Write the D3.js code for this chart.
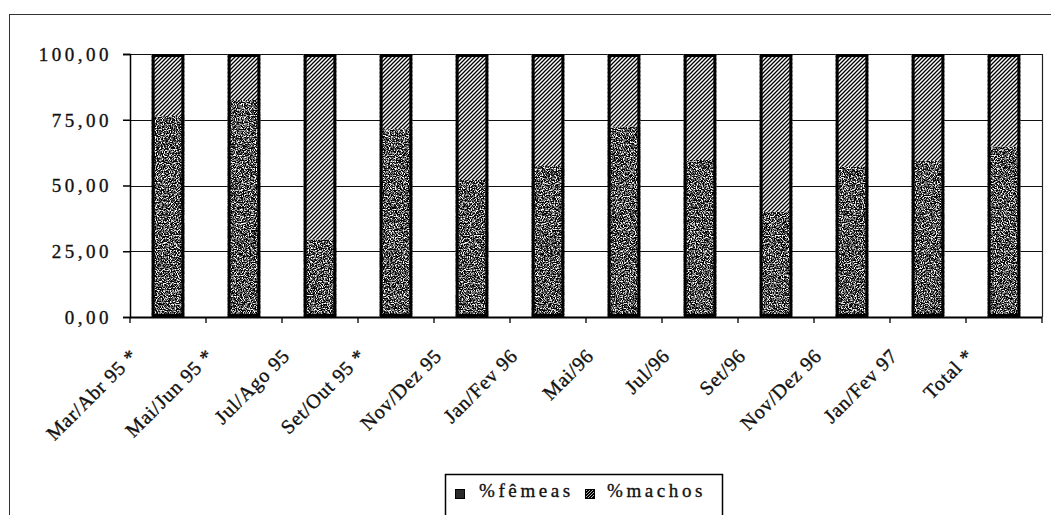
<!DOCTYPE html>
<html>
<head>
<meta charset="utf-8">
<script src="https://cdn.jsdelivr.net/npm/d3@7"></script>
<style>
  html, body { margin: 0; padding: 0; background: #fff; }
  svg { display: block; }
  text { font-family: "Liberation Serif", "Times New Roman", serif; fill: #111; stroke: #111; stroke-width: 0.35px; }
</style>
</head>
<body>
<svg id="chart" width="1051" height="515"></svg>
<script>
// Sex ratio per sampling period (percent)
const categories = ["Mar/Abr 95 *", "Mai/Jun 95 *", "Jul/Ago 95", "Set/Out 95 *", "Nov/Dez 95",
  "Jan/Fev 96", "Mai/96", "Jul/96", "Set/96", "Nov/Dez 96", "Jan/Fev 97", "Total *"];
const femeas = [76.4, 82.5, 29.5, 71.4, 52.1, 57.4, 72.4, 59.7, 40.0, 57.1, 59.4, 64.8];
const machos = [23.6, 17.5, 70.5, 28.6, 47.9, 42.6, 27.6, 40.3, 60.0, 42.9, 40.6, 35.2];
const yTicks = [0, 25, 50, 75, 100];
const seriesNames = ["%fêmeas", "%machos"];

const svg = d3.select("#chart");
const fmt = v => d3.format(".2f")(v).replace(".", ",");

// Fill definitions: grainy dark tone for females, diagonal hatch for males
const defs = svg.append("defs");
const grain = defs.append("filter").attr("id", "grain")
  .attr("x", 0).attr("y", 0).attr("width", 1).attr("height", 1)
  .attr("filterUnits", "objectBoundingBox")
  .attr("color-interpolation-filters", "sRGB");
grain.append("feTurbulence").attr("type", "fractalNoise")
  .attr("baseFrequency", 0.85).attr("numOctaves", 2).attr("seed", 7).attr("result", "noise");
grain.append("feColorMatrix").attr("in", "noise").attr("type", "matrix")
  .attr("values", "1 0 0 0 0  1 0 0 0 0  1 0 0 0 0  0 0 0 0 1").attr("result", "gray");
const ct = grain.append("feComponentTransfer").attr("in", "gray").attr("result", "tone");
["feFuncR", "feFuncG", "feFuncB"].forEach(f =>
  ct.append(f).attr("type", "linear").attr("slope", 4).attr("intercept", -1.7));
grain.append("feComposite").attr("in", "tone").attr("in2", "SourceGraphic").attr("operator", "in");

const hatch = defs.append("pattern").attr("id", "hatch")
  .attr("patternUnits", "userSpaceOnUse").attr("width", 4).attr("height", 4);
hatch.append("rect").attr("width", 4).attr("height", 4).attr("fill", "#fff");
hatch.append("path").attr("d", "M-1,1 l2,-2 M0,4 l4,-4 M3,5 l2,-2")
  .attr("stroke", "#000").attr("stroke-width", 1.3);

const legHatch = defs.append("pattern").attr("id", "hatchLegend")
  .attr("patternUnits", "userSpaceOnUse").attr("width", 3).attr("height", 3);
legHatch.append("rect").attr("width", 3).attr("height", 3).attr("fill", "#000");
legHatch.append("path").attr("d", "M-1,1 l2,-2 M0,3 l3,-3 M2,4 l2,-2")
  .attr("stroke", "#ddd").attr("stroke-width", 0.8);

// Outer frame
svg.append("rect").attr("x", 9.5).attr("y", 14.5).attr("width", 1060).attr("height", 520)
  .attr("fill", "none").attr("stroke", "#333").attr("stroke-width", 1);

// Scales
const plot = { left: 130, right: 1042, top: 54, bottom: 317 };
const x = d3.scaleBand().domain(categories).range([plot.left, plot.right])
  .paddingInner(0.57).paddingOuter(0.285);
const y = d3.scaleLinear().domain([0, 100]).range([plot.bottom, plot.top]);
const step = x.step();

// Gridlines
svg.append("g").selectAll("line").data(yTicks.filter(d => d > 0)).join("line")
  .attr("x1", plot.left).attr("x2", plot.right)
  .attr("y1", d => Math.round(y(d)) + 0.5).attr("y2", d => Math.round(y(d)) + 0.5)
  .attr("stroke", "#111").attr("stroke-width", 1.2);

// Right edge of plot area
svg.append("line").attr("x1", plot.right + 0.5).attr("x2", plot.right + 0.5)
  .attr("y1", plot.top).attr("y2", plot.bottom)
  .attr("stroke", "#222").attr("stroke-width", 1.2);

// Y axis
const yAxis = svg.append("g").attr("transform", `translate(${plot.left},0)`)
  .call(d3.axisLeft(y).tickValues(yTicks).tickSize(7).tickFormat(fmt));
yAxis.select(".domain").attr("stroke", "#000").attr("stroke-width", 1.5);
yAxis.selectAll(".tick line").attr("stroke", "#000").attr("stroke-width", 1.5);
yAxis.selectAll(".tick text")
  .attr("x", -18).attr("dy", "0.33em")
  .style("font-size", "19px").style("letter-spacing", "3.5px")
  .style("font-family", "'Liberation Serif', serif").attr("fill", "#111");

// X axis: ticks at category boundaries
const bounds = categories.map(c => x(c) + x.bandwidth() / 2 - step / 2)
  .concat([x(categories[categories.length - 1]) + x.bandwidth() / 2 + step / 2]);
svg.append("line").attr("x1", plot.left).attr("x2", plot.right)
  .attr("y1", plot.bottom + 0.5).attr("y2", plot.bottom + 0.5)
  .attr("stroke", "#000").attr("stroke-width", 1.8);
svg.append("g").selectAll("line").data(bounds).join("line")
  .attr("x1", d => d).attr("x2", d => d)
  .attr("y1", plot.bottom).attr("y2", plot.bottom + 6)
  .attr("stroke", "#000").attr("stroke-width", 1.3);

// X labels, rotated
svg.append("g").selectAll("text").data(categories).join("text")
  .attr("transform", d => `translate(${x(d) + x.bandwidth() / 2 - 29},357) rotate(-45)`)
  .attr("text-anchor", "end")
  .style("font-size", "20px").style("letter-spacing", "0.8px")
  .text(d => d);

// Bars
const bars = svg.append("g").selectAll("g").data(categories).join("g");
bars.append("rect")
  .attr("x", d => x(d)).attr("width", x.bandwidth())
  .attr("y", (d, i) => y(femeas[i])).attr("height", (d, i) => y(0) - y(femeas[i]))
  .attr("fill", "#000").attr("filter", "url(#grain)");
bars.append("rect")
  .attr("x", d => x(d)).attr("width", x.bandwidth())
  .attr("y", (d, i) => y(femeas[i] + machos[i])).attr("height", (d, i) => y(femeas[i]) - y(femeas[i] + machos[i]))
  .attr("fill", "url(#hatch)");
bars.append("rect")
  .attr("x", d => x(d) + 1.5).attr("width", x.bandwidth() - 3)
  .attr("y", (d, i) => y(femeas[i] + machos[i]) + 1.5)
  .attr("height", (d, i) => y(0) - y(femeas[i] + machos[i]) - 3)
  .attr("fill", "none").attr("stroke", "#000").attr("stroke-width", 3);

// Legend
const leg = svg.append("g");
leg.append("rect").attr("x", 445.5).attr("y", 474.5).attr("width", 277).attr("height", 60)
  .attr("fill", "#fff").attr("stroke", "#000").attr("stroke-width", 1.5);
const legItems = [
  { name: seriesNames[0], sx: 455, tx: 479, fill: "#2a2a2a" },
  { name: seriesNames[1], sx: 585, tx: 607, fill: "url(#hatchLegend)" }
];
legItems.forEach(it => {
  leg.append("rect").attr("x", it.sx + 0.5).attr("y", 489.5).attr("width", 9).attr("height", 9)
    .attr("fill", it.fill).attr("stroke", "#000").attr("stroke-width", 1);
  leg.append("text").attr("x", it.tx).attr("y", 497)
    .style("font-size", "19px").style("letter-spacing", "3.6px")
    .text(it.name);
});
</script>
</body>
</html>
